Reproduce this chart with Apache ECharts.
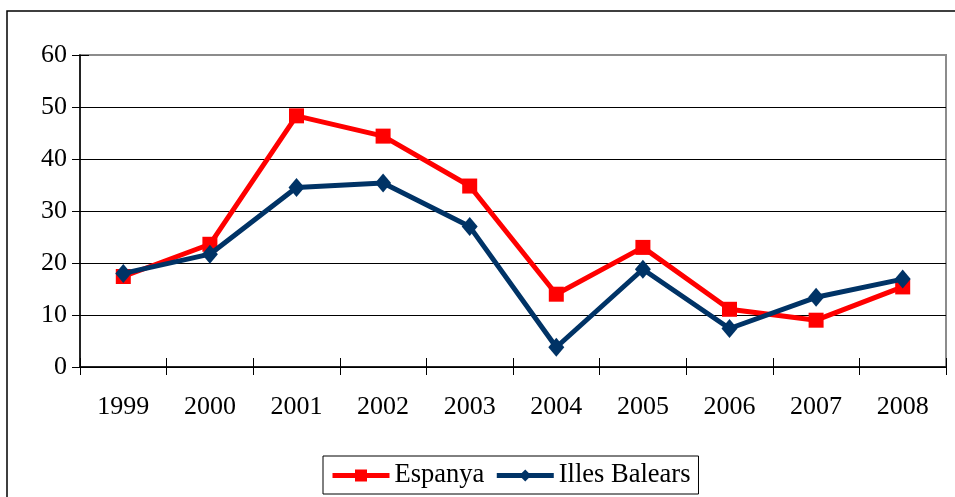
<!DOCTYPE html>
<html>
<head>
<meta charset="utf-8">
<script src="https://cdn.jsdelivr.net/npm/echarts@6/dist/echarts.min.js"></script>
<style>
html,body{margin:0;padding:0;background:#fff;}
#c{width:955px;height:497px;}
</style>
</head>
<body>
<div id="c"></div>
<script>
const years = ['1999','2000','2001','2002','2003','2004','2005','2006','2007','2008'];
const espanya = [17.4, 23.6, 48.3, 44.4, 34.8, 14.0, 23.0, 11.1, 9.0, 15.4];
const illesBalears = [18.0, 21.7, 34.5, 35.4, 27.0, 3.8, 18.8, 7.4, 13.4, 16.9];
const yTicks = [0, 10, 20, 30, 40, 50, 60];

const FONT = '"Liberation Serif", "Times New Roman", serif';
const chart = echarts.init(document.getElementById('c'));
chart.setOption({
  animation: false,
  backgroundColor: '#fff',
  textStyle: { fontFamily: FONT },
  graphic: [{
    type: 'rect',
    shape: { x: 7, y: 11, width: 960, height: 500 },
    style: { fill: 'none', stroke: '#000', lineWidth: 1.5 },
    silent: true, z: 100
  }],
  grid: {
    left: 80, top: 55, right: 9, bottom: 130,
    show: true, borderColor: '#8c8c8c', borderWidth: 2, backgroundColor: 'transparent'
  },
  legend: {
    bottom: 3,
    left: 323,
    itemWidth: 57,
    itemHeight: 15,
    itemGap: 10,
    padding: [6, 8, 5, 7],
    borderColor: '#000',
    borderWidth: 1,
    textStyle: { fontFamily: FONT, fontSize: 26.5, color: '#000' },
    data: [
      { name: 'Espanya', lineStyle: { width: 5 } },
      { name: 'Illes Balears', lineStyle: { width: 5 } }
    ]
  },
  xAxis: [{
    type: 'category',
    data: years,
    boundaryGap: true,
    position: 'bottom',
    axisLine: { lineStyle: { color: '#000', width: 1.5 } },
    axisTick: { show: true, length: 8, lineStyle: { color: '#000' } },
    axisLabel: { fontFamily: FONT, fontSize: 26, color: '#000', margin: 27 },
    splitLine: { show: false }
  }, {
    type: 'category',
    data: years,
    boundaryGap: true,
    position: 'bottom',
    offset: 0,
    axisLine: { show: false },
    axisTick: { show: true, inside: true, length: 9, lineStyle: { color: '#000' } },
    axisLabel: { show: false },
    splitLine: { show: false }
  }],
  yAxis: [{
    type: 'value',
    min: yTicks[0], max: yTicks[yTicks.length - 1], interval: 10,
    axisLine: { show: true, lineStyle: { color: '#000', width: 1.5 } },
    axisTick: { show: true, length: 8, lineStyle: { color: '#000' } },
    axisLabel: { fontFamily: FONT, fontSize: 26, color: '#000', margin: 13 },
    splitLine: { show: true, lineStyle: { color: ['#000','#000','#000','#000','#000','#000','#8c8c8c'], width: 1 } }
  }, {
    type: 'value',
    position: 'left',
    min: yTicks[0], max: yTicks[yTicks.length - 1], interval: 10,
    axisLine: { show: false },
    axisTick: { show: true, inside: true, length: 9, lineStyle: { color: '#000' } },
    axisLabel: { show: false },
    splitLine: { show: false }
  }],
  series: [{
    name: 'Espanya',
    type: 'line',
    data: espanya,
    symbol: 'rect',
    symbolSize: 15,
    lineStyle: { color: '#ff0000', width: 5 },
    itemStyle: { color: '#ff0000' },
    z: 3
  }, {
    name: 'Illes Balears',
    type: 'line',
    data: illesBalears,
    symbol: 'diamond',
    symbolSize: [16, 19],
    lineStyle: { color: '#003366', width: 5 },
    itemStyle: { color: '#003366' },
    z: 4
  }]
});
</script>
</body>
</html>
